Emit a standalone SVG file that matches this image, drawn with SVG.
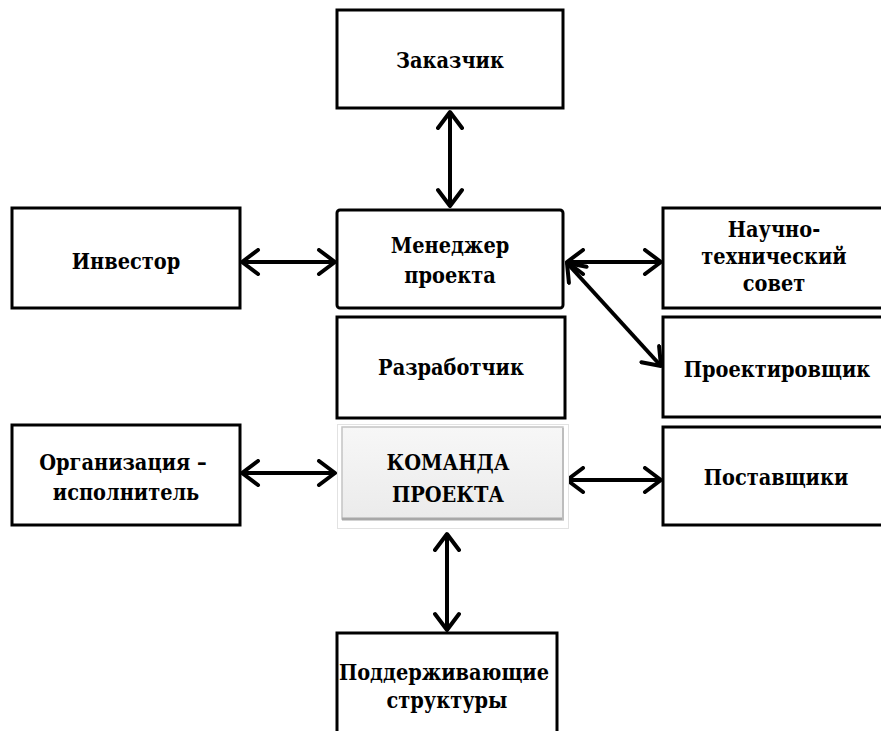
<svg xmlns="http://www.w3.org/2000/svg" width="881" height="731" viewBox="0 0 881 731">
  <style>
    .box { fill: #ffffff; stroke: #000000; stroke-width: 3; }
    text { font-family: "DejaVu Serif Condensed", "DejaVu Serif", serif; font-stretch: condensed; font-weight: 700; font-size: 21.5px; fill: #000000; text-anchor: middle; }
    .link { stroke: #000000; stroke-width: 4; fill: none; marker-start: url(#head); marker-end: url(#head); }
  </style>
  <defs>
    <marker id="head" markerUnits="userSpaceOnUse" viewBox="-20 -14 24 28" refX="0" refY="0" markerWidth="24" markerHeight="28" orient="auto-start-reverse">
      <path d="M -16,-12 L 0,0 L -16,12" fill="none" stroke="#000000" stroke-width="4" stroke-linecap="round" stroke-linejoin="round"/>
    </marker>
    <linearGradient id="teamFill" x1="0" y1="0" x2="0" y2="1">
      <stop offset="0" stop-color="#f7f7f7"/>
      <stop offset="1" stop-color="#ebebeb"/>
    </linearGradient>
  </defs>

  <rect width="881" height="731" fill="#ffffff"/>

  <g id="connectors">
    <line class="link" x1="450" y1="112" x2="450" y2="206"/>
    <line class="link" x1="242" y1="262" x2="335" y2="262"/>
    <line class="link" x1="567" y1="262" x2="661" y2="262"/>
    <line class="link" x1="567" y1="263" x2="661" y2="366"/>
    <line class="link" x1="242" y1="473" x2="335" y2="473"/>
    <line class="link" x1="567" y1="480" x2="661" y2="480"/>
    <line class="link" x1="447" y1="534" x2="447" y2="630"/>
  </g>

  <g id="customer">
    <rect class="box" x="337" y="10" width="226" height="98"/>
    <text x="450" y="68">Заказчик</text>
  </g>

  <g id="investor">
    <rect class="box" x="12" y="208" width="228" height="100"/>
    <text x="126" y="269">Инвестор</text>
  </g>

  <g id="manager">
    <rect class="box" x="337" y="210" width="226" height="98" rx="3"/>
    <text x="450" y="253">Менеджер</text>
    <text x="450" y="283">проекта</text>
  </g>

  <g id="council">
    <rect class="box" x="663" y="208" width="222" height="100"/>
    <text x="774" y="237">Научно-</text>
    <text x="774" y="264">технический</text>
    <text x="774" y="291">совет</text>
  </g>

  <g id="developer">
    <rect class="box" x="337" y="317" width="228" height="101"/>
    <text x="451" y="375">Разработчик</text>
  </g>

  <g id="designer">
    <rect class="box" x="663" y="317" width="222" height="100"/>
    <text x="777" y="377">Проектировщик</text>
  </g>

  <g id="contractor">
    <rect class="box" x="12" y="425" width="228" height="100"/>
    <text x="123" y="470">Организация –</text>
    <text x="126" y="500">исполнитель</text>
  </g>

  <g id="team">
    <rect x="337.5" y="424.5" width="231" height="104" fill="#ffffff" stroke="#e2e2e2" stroke-width="1"/>
    <rect x="342" y="427" width="221" height="92" fill="url(#teamFill)" stroke="#c4c4c4" stroke-width="1.5"/>
    <line x1="342" y1="519" x2="564" y2="519" stroke="#a8a8a8" stroke-width="3"/>
    <line x1="563" y1="428" x2="563" y2="520" stroke="#bdbdbd" stroke-width="2"/>
    <text x="448" y="470">КОМАНДА</text>
    <text x="448" y="502">ПРОЕКТА</text>
  </g>

  <g id="suppliers">
    <rect class="box" x="663" y="427" width="222" height="98"/>
    <text x="776" y="485">Поставщики</text>
  </g>

  <g id="support">
    <rect class="box" x="337" y="633" width="220" height="110"/>
    <text x="444" y="680">Поддерживающие</text>
    <text x="447" y="708">структуры</text>
  </g>
</svg>
